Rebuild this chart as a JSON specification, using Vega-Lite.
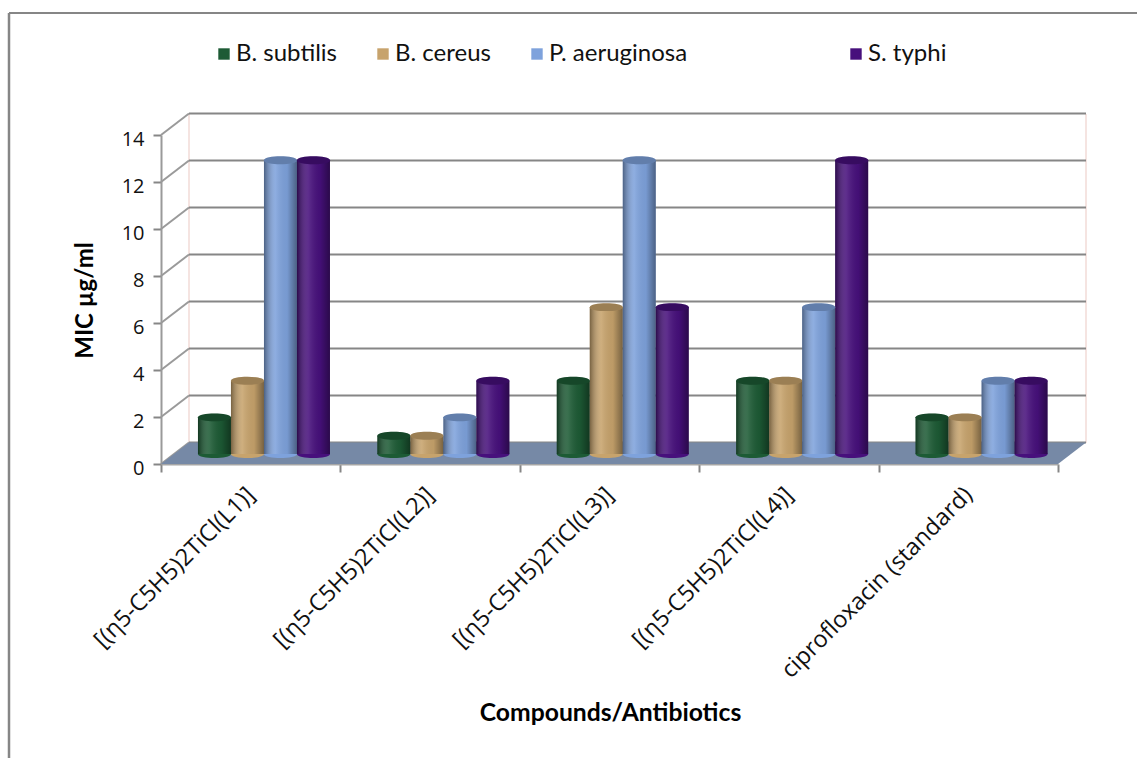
{
"$schema":"https://vega.github.io/schema/vega-lite/v6.json",
"width":897,"height":329,
"autosize":{"type":"none"},
"padding":{"left":161,"top":135,"right":79,"bottom":294},
"background":"white",
"config":{"view":{"stroke":null},"font":"Lato"},
"datasets":{
"mic":[
{"compound":"[(η5-C5H5)2TiCl(L1)]","strain":"B. subtilis","mic":1.56},
{"compound":"[(η5-C5H5)2TiCl(L1)]","strain":"B. cereus","mic":3.12},
{"compound":"[(η5-C5H5)2TiCl(L1)]","strain":"P. aeruginosa","mic":12.5},
{"compound":"[(η5-C5H5)2TiCl(L1)]","strain":"S. typhi","mic":12.5},
{"compound":"[(η5-C5H5)2TiCl(L2)]","strain":"B. subtilis","mic":0.78},
{"compound":"[(η5-C5H5)2TiCl(L2)]","strain":"B. cereus","mic":0.78},
{"compound":"[(η5-C5H5)2TiCl(L2)]","strain":"P. aeruginosa","mic":1.56},
{"compound":"[(η5-C5H5)2TiCl(L2)]","strain":"S. typhi","mic":3.12},
{"compound":"[(η5-C5H5)2TiCl(L3)]","strain":"B. subtilis","mic":3.12},
{"compound":"[(η5-C5H5)2TiCl(L3)]","strain":"B. cereus","mic":6.25},
{"compound":"[(η5-C5H5)2TiCl(L3)]","strain":"P. aeruginosa","mic":12.5},
{"compound":"[(η5-C5H5)2TiCl(L3)]","strain":"S. typhi","mic":6.25},
{"compound":"[(η5-C5H5)2TiCl(L4)]","strain":"B. subtilis","mic":3.12},
{"compound":"[(η5-C5H5)2TiCl(L4)]","strain":"B. cereus","mic":3.12},
{"compound":"[(η5-C5H5)2TiCl(L4)]","strain":"P. aeruginosa","mic":6.25},
{"compound":"[(η5-C5H5)2TiCl(L4)]","strain":"S. typhi","mic":12.5},
{"compound":"ciprofloxacin (standard)","strain":"B. subtilis","mic":1.56},
{"compound":"ciprofloxacin (standard)","strain":"B. cereus","mic":1.56},
{"compound":"ciprofloxacin (standard)","strain":"P. aeruginosa","mic":3.12},
{"compound":"ciprofloxacin (standard)","strain":"S. typhi","mic":3.12}
],
"ticks":[{"v":0},{"v":2},{"v":4},{"v":6},{"v":8},{"v":10},{"v":12},{"v":14}],
"one":[{"k":1}]
},
"data":{"name":"mic"},
"layer":[
{"data":{"name":"one"},"mark":{"type":"rule","color":"#868686","strokeWidth":2,"clip":false},
 "encoding":{"x":{"value":-152},"x2":{"value":976},"y":{"value":-122},"y2":{"value":-122}}},
{"data":{"name":"one"},"mark":{"type":"rule","color":"#868686","strokeWidth":2.5,"clip":false},
 "encoding":{"x":{"value":-152},"y":{"value":-122},"y2":{"value":623}}},
{"data":{"name":"one"},"mark":{"type":"rule","color":"#f5e4e1","strokeWidth":2},
 "encoding":{"x":{"value":28},"y":{"value":-21},"y2":{"value":308}}},
{"data":{"name":"one"},"mark":{"type":"rule","color":"#f5e4e1","strokeWidth":2},
 "encoding":{"x":{"value":925},"y":{"value":-21},"y2":{"value":308}}},
{"data":{"name":"ticks"},"mark":{"type":"rule","color":"#868686","strokeWidth":2,"yOffset":-21.5,"y2Offset":-21.5},
 "encoding":{"y":{"field":"v","type":"quantitative","scale":{"domain":[0,14],"nice":false},
   "title":"MIC µg/ml",
   "axis":{"values":[0,2,4,6,8,10,12,14],"grid":false,"labelFontSize":20,"labelFont":"Open Sans","labelColor":"#111111","labelPadding":9,"labelOffset":4,"domainColor":"#9a9a9a","domainWidth":2,"tickColor":"#868686","tickWidth":2,"tickSize":8,"titleFontSize":24,"titleFont":"Lato","titleFontWeight":"bold","titleColor":"#000000","titleX":-64,"titleY":165}},
  "x":{"value":28},"x2":{"value":925},"y2":{"field":"v"}}},
{"data":{"name":"ticks"},"mark":{"type":"rule","color":"#9a9a9a","strokeWidth":2,"y2Offset":-21.5},
 "encoding":{"y":{"field":"v","type":"quantitative"},"y2":{"field":"v"},"x":{"value":0},"x2":{"value":28}}},
{"data":{"name":"one"},"mark":{"type":"point","shape":"M0,0L0.28,-0.215L9.25,-0.215L8.97,0Z","filled":true,"fill":"#7689a6","opacity":1,"size":40000,"strokeWidth":0},
 "encoding":{"x":{"value":0},"y":{"value":329}}},
{"mark":{"type":"bar","yOffset":-10,"y2Offset":-10},
 "encoding":{
  "x":{"field":"compound","type":"nominal","sort":null,"scale":{"paddingInner":0,"paddingOuter":0},
   "title":"Compounds/Antibiotics",
   "axis":{"tickBand":"extent","labelAngle":-45,"labelAlign":"right","labelBaseline":"middle","labelFontSize":23.5,"labelFont":"Open Sans","labelColor":"#111111","labelPadding":19,"labelLimit":300,"labelOverlap":false,"labelFlush":false,"domainColor":"#a6a6a6","domainWidth":2,"tickColor":"#868686","tickWidth":2,"tickSize":8,"titleFontSize":24.7,"titleFont":"Lato","titleFontWeight":"bold","titleColor":"#000000","titleY":236,"titleX":449}},
  "xOffset":{"field":"strain","type":"nominal","sort":["B. subtilis","B. cereus","P. aeruginosa","S. typhi"],"scale":{"domain":["B. subtilis","B. cereus","P. aeruginosa","S. typhi"],"paddingInner":0,"paddingOuter":0.718,"align":0.78}},
  "y":{"field":"mic","type":"quantitative","stack":null},
  "y2":{"datum":0},
  "color":{"field":"strain","type":"nominal","sort":["B. subtilis","B. cereus","P. aeruginosa","S. typhi"],
   "scale":{"domain":["B. subtilis","B. cereus","P. aeruginosa","S. typhi"],"range":["#1d5b35","#c7a36c","#7ea2dc","#47107c"]},
   "legend":{"orient":"none","legendX":51,"legendY":-93,"direction":"horizontal","title":null,"symbolType":"square","symbolSize":130,"symbolStrokeWidth":0,"labelFontSize":24,"labelFont":"Lato","labelColor":"#111111","labelOffset":0,"columnPadding":34,"symbolOpacity":1,"gridAlign":"none","labelLimit":500,
    "labelExpr":"datum.label == 'P. aeruginosa' ? 'P. aeruginosa\u00a0\u00a0\u00a0\u00a0\u00a0\u00a0\u00a0\u00a0\u00a0\u00a0\u00a0\u00a0\u00a0\u00a0\u00a0\u00a0\u00a0\u00a0\u00a0\u00a0\u200b' : datum.label"}}}},
{"mark":{"type":"point","shape":"M-1,0C-1,-0.32 1,-0.32 1,0C1,0.32 -1,0.32 -1,0Z","filled":true,"opacity":1,"size":1089,"strokeWidth":0,"yOffset":-10},
 "encoding":{
  "x":{"field":"compound","type":"nominal","sort":null},
  "xOffset":{"field":"strain","type":"nominal"},
  "y":{"datum":0,"type":"quantitative"},
  "color":{"field":"strain","type":"nominal"}}},
{"mark":{"type":"bar","yOffset":-10,"y2Offset":-10,
  "fill":{"gradient":"linear","x1":0,"x2":1,"y1":0,"y2":0,"stops":[{"offset":0,"color":"rgba(0,0,0,0.4)"},{"offset":0.35,"color":"rgba(255,255,255,0.12)"},{"offset":0.7,"color":"rgba(0,0,0,0.05)"},{"offset":1,"color":"rgba(0,0,0,0.4)"}]}},
 "encoding":{
  "x":{"field":"compound","type":"nominal","sort":null},
  "xOffset":{"field":"strain","type":"nominal"},
  "y":{"field":"mic","type":"quantitative","stack":null},
  "y2":{"datum":0}}},
{"mark":{"type":"point","shape":"M-1,0C-1,-0.32 1,-0.32 1,0C1,0.32 -1,0.32 -1,0Z","filled":true,"opacity":1,"size":1089,"strokeWidth":0,"yOffset":-10},
 "encoding":{
  "x":{"field":"compound","type":"nominal","sort":null},
  "xOffset":{"field":"strain","type":"nominal"},
  "y":{"field":"mic","type":"quantitative"},
  "color":{"field":"strain","type":"nominal"}}},
{"mark":{"type":"point","shape":"M-1,0C-1,-0.32 1,-0.32 1,0C1,0.32 -1,0.32 -1,0Z","filled":true,"opacity":1,"fill":"rgba(0,0,0,0.22)","size":1089,"strokeWidth":0,"yOffset":-10},
 "encoding":{
  "x":{"field":"compound","type":"nominal","sort":null},
  "xOffset":{"field":"strain","type":"nominal"},
  "y":{"field":"mic","type":"quantitative"}}}
]
}
